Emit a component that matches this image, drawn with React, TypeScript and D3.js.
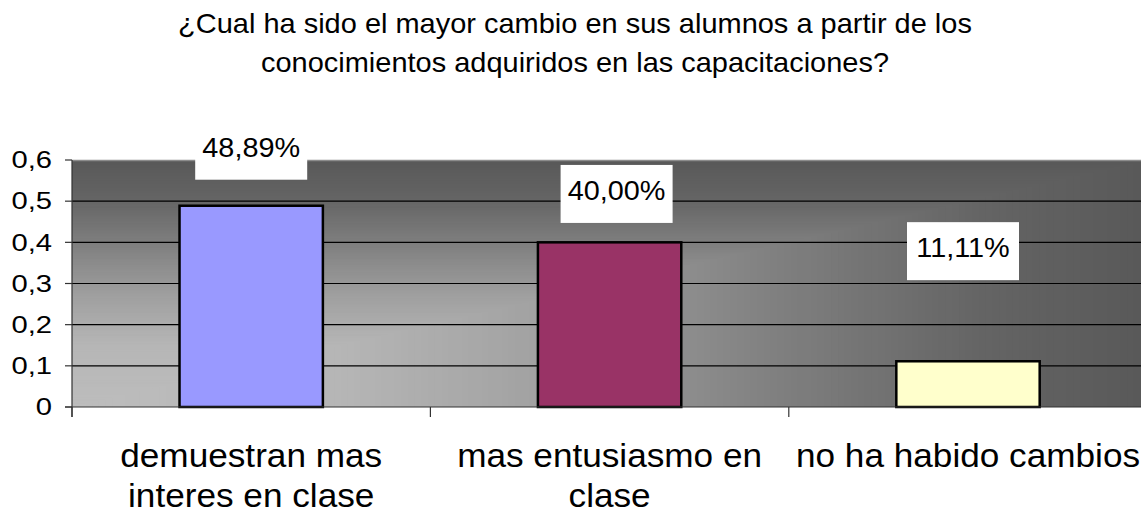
import React from "react";
import * as d3 from "d3";

const TITLE_LINES = [
  "¿Cual ha sido el mayor cambio en sus alumnos a partir de los",
  "conocimientos adquiridos en las capacitaciones?",
];
const CATEGORIES = [
  "demuestran mas interes en clase",
  "mas entusiasmo en clase",
  "no ha habido cambios",
];
const CATEGORY_LINES = [
  ["demuestran mas", "interes en clase"],
  ["mas entusiasmo en", "clase"],
  ["no ha habido cambios"],
];
const VALUES = [0.4889, 0.4, 0.1111];
const VALUE_LABELS = ["48,89%", "40,00%", "11,11%"];
const BAR_COLORS = ["#9999FF", "#993366", "#FFFFCC"];
const Y_TICKS = [0, 0.1, 0.2, 0.3, 0.4, 0.5, 0.6];
const Y_TICK_LABELS = ["0", "0,1", "0,2", "0,3", "0,4", "0,5", "0,6"];
// where the (manually placed) data labels sit, in axis units
const LABEL_ANCHORS = [0.608, 0.503, 0.364];
const LABEL_DX = [0, 7, -5];

const W = 1141;
const H = 513;
const FONT = "'Liberation Sans', Arial, Helvetica, sans-serif";

export default function App() {
  const left = 72;
  const step = 358.4;
  const right = left + step * CATEGORIES.length;
  const top = 160;
  const bottom = 407;

  const y = d3.scaleLinear().domain([0, 0.6]).range([bottom, top]);
  const x = d3
    .scaleBand<string>()
    .domain(CATEGORIES)
    .range([left, right])
    .paddingInner(0.6)
    .paddingOuter(0.3);
  const xc = d3.scaleBand<string>().domain(CATEGORIES).range([left, right]).padding(0);

  const pw = right - left;
  const ph = bottom - top;
  const shade = d3
    .scaleLinear<string>()
    .domain([0, 0.25, 0.45, 0.65, 0.85, 1])
    .range(["#bdbdbd", "#b6b6b6", "#a0a0a0", "#818181", "#646464", "#595959"])
    .interpolate(d3.interpolateRgb);
  const N = 160;
  const bands = d3.range(N, -1, -1).map((i) => i / N);

  return (
    <svg
      width={W}
      height={H}
      style={{ position: "absolute", left: 0, top: 0, background: "#fff" }}
      fontFamily={FONT}
    >
      <defs>
        <clipPath id="plotclip">
          <rect x={left} y={top} width={W - left} height={ph} />
        </clipPath>
      </defs>
      {/* title */}
      {TITLE_LINES.map((t, i) => (
        <text
          key={i}
          transform={`translate(575,${33.3 + i * 38.7}) scale(1.073,1)`}
          textAnchor="middle"
          fontSize={27}
          fill="#000"
        >
          {t}
        </text>
      ))}

      {/* plot background: gradient from bottom-left corner */}
      <g clipPath="url(#plotclip)">
        {bands.map((t, i) => (
          <rect
            key={i}
            x={left}
            y={bottom - Math.max(t, 0.0001) * ph}
            width={Math.max(t, 0.0001) * pw}
            height={Math.max(t, 0.0001) * ph}
            fill={shade(t)}
          />
        ))}
      </g>
      <line x1={left} x2={W} y1={top + 0.5} y2={top + 0.5} stroke="#8c8c8c" strokeWidth={1.5} />

      {/* gridlines */}
      {Y_TICKS.filter((v) => v > 0 && v < 0.6).map((v) => (
        <line
          key={v}
          x1={left}
          x2={W}
          y1={y(v)}
          y2={y(v)}
          stroke="#000"
          strokeWidth={1.1}
        />
      ))}

      {/* bars */}
      {CATEGORIES.map((c, i) => (
        <rect
          key={c}
          x={x(c)}
          y={y(VALUES[i])}
          width={x.bandwidth()}
          height={bottom - y(VALUES[i])}
          fill={BAR_COLORS[i]}
          stroke="#000"
          strokeWidth={2.5}
        />
      ))}

      {/* axes */}
      <line x1={left} x2={left} y1={top} y2={bottom + 10} stroke="#333" strokeWidth={1.2} />
      <line x1={left - 7} x2={W} y1={bottom} y2={bottom} stroke="#333" strokeWidth={1.2} />
      {Y_TICKS.map((v, i) => (
        <g key={v}>
          <line x1={left - 7} x2={left} y1={y(v)} y2={y(v)} stroke="#333" strokeWidth={1.2} />
          <text
            transform={`translate(52,${y(v) + 8.3}) scale(1.27,1)`}
            textAnchor="end"
            fontSize={23}
            fill="#000"
          >
            {Y_TICK_LABELS[i]}
          </text>
        </g>
      ))}
      {d3.range(CATEGORIES.length + 1).map((i) => (
        <line
          key={i}
          x1={left + i * xc.step()}
          x2={left + i * xc.step()}
          y1={bottom}
          y2={bottom + 10}
          stroke="#333"
          strokeWidth={1.2}
        />
      ))}

      {/* category labels */}
      {CATEGORIES.map((c, i) =>
        CATEGORY_LINES[i].map((line, j) => (
          <text
            key={c + j}
            transform={`translate(${(xc(c) as number) + xc.bandwidth() / 2},${466.5 + j * 40}) scale(1.066,1)`}
            textAnchor="middle"
            fontSize={33}
            fill="#000"
          >
            {line}
          </text>
        ))
      )}

      {/* value labels */}
      {CATEGORIES.map((c, i) => {
        const cx = (x(c) as number) + x.bandwidth() / 2 + LABEL_DX[i];
        const by = y(LABEL_ANCHORS[i]);
        return (
          <g key={c}>
            <rect x={cx - 56} y={by - 35} width={112} height={58} fill="#fff" />
            <text
              transform={`translate(${cx},${by}) scale(1.03,1)`}
              textAnchor="middle"
              fontSize={28}
              fill="#000"
            >
              {VALUE_LABELS[i]}
            </text>
          </g>
        );
      })}
    </svg>
  );
}
